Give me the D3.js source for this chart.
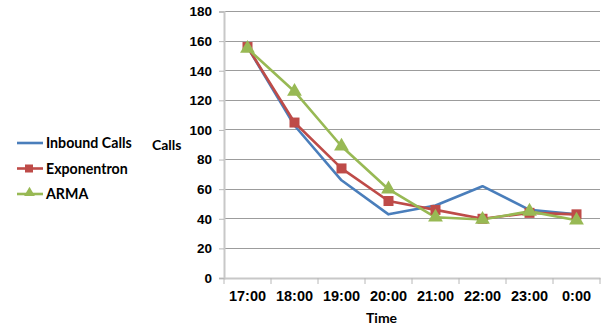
<!DOCTYPE html>
<html><head><meta charset="utf-8">
<script src="https://cdn.jsdelivr.net/npm/d3@7"></script>
<style>body{margin:0;background:#fff}svg{display:block}</style>
</head><body>
<script>
const categories = ["17:00","18:00","19:00","20:00","21:00","22:00","23:00","0:00"];
const inbound = [156,103,66,43,49,62,46,43];
const exponentron = [156,105,74,52,46,40,44,43];
const arma = [155,126,89,60,41,39.5,45,39];
const yTicks = [0,20,40,60,80,100,120,140,160,180];
const seriesNames = ["Inbound Calls","Exponentron","ARMA"];
const colors = ["#4a7ebb","#be4b48","#98b954"];

const W=606,H=327;
const svg=d3.select("body").append("svg").attr("width",W).attr("height",H);
const x=d3.scaleBand().domain(categories).range([224,600]);
const y=d3.scaleLinear().domain([0,180]).range([278,11.5]);

// grid
svg.append("g").selectAll("line").data(yTicks.filter(d=>d>0)).join("line")
 .attr("x1",224).attr("x2",600).attr("y1",d=>y(d)).attr("y2",d=>y(d))
 .attr("stroke","#9c9c9c").attr("stroke-width",1).attr("shape-rendering","crispEdges");

// y axis
const ya=svg.append("g").attr("transform","translate(224,0)")
 .call(d3.axisLeft(y).tickValues(yTicks).tickSize(5).tickPadding(7));
ya.select(".domain").attr("stroke","#c8c8c8").attr("stroke-width",2);
ya.selectAll(".tick line").attr("stroke","#b8b8b8");
ya.selectAll("text").attr("font-family","Liberation Sans, Arial").attr("font-weight","bold").attr("font-size",13.5).attr("fill","#000");

// x axis
const xa=svg.append("g").attr("transform","translate(0,278)")
 .call(d3.axisBottom(x).tickSize(0).tickPadding(13));
xa.select(".domain").attr("stroke","#c8c8c8").attr("stroke-width",2);
xa.selectAll("text").attr("font-family","Liberation Sans, Arial").attr("font-weight","bold").attr("font-size",14.5).attr("fill","#000");
const bounds=categories.map(c=>x(c)).concat([x.range()[1]]);
svg.append("g").selectAll("line").data(bounds).join("line")
 .attr("x1",d=>d).attr("x2",d=>d).attr("y1",278).attr("y2",284)
 .attr("stroke","#b8b8b8").attr("stroke-width",1);

const cx=c=>x(c)+x.bandwidth()/2;
const line=d3.line().x((d,i)=>cx(categories[i])).y(d=>y(d));
const data=[inbound,exponentron,arma];
data.forEach((vals,k)=>{
  svg.append("path").datum(vals).attr("d",line).attr("fill","none")
   .attr("stroke",colors[k]).attr("stroke-width",2.6).attr("stroke-linejoin","round");
});
// markers
svg.append("g").selectAll("rect").data(exponentron).join("rect")
 .attr("x",(d,i)=>cx(categories[i])-5).attr("y",d=>y(d)-5).attr("width",10).attr("height",10)
 .attr("fill",colors[1]);
const tri=d3.symbol().type(d3.symbolTriangle).size(95);
svg.append("g").selectAll("path").data(arma).join("path")
 .attr("d",tri).attr("transform",(d,i)=>`translate(${cx(categories[i])},${y(d)})`)
 .attr("fill",colors[2]);

// legend
const lg=svg.append("g");
seriesNames.forEach((n,k)=>{
  const ly=143+k*25.5;
  lg.append("line").attr("x1",17).attr("x2",43).attr("y1",ly).attr("y2",ly).attr("stroke",colors[k]).attr("stroke-width",2.6);
  if(k===1) lg.append("rect").attr("x",25).attr("y",ly-4).attr("width",8).attr("height",8).attr("fill",colors[1]);
  if(k===2) lg.append("path").attr("d",d3.symbol().type(d3.symbolTriangle).size(50)).attr("transform",`translate(29.5,${ly-1})`).attr("fill",colors[2]);
  lg.append("text").attr("x",46).attr("y",ly+5).text(n)
   .attr("font-family","Lato, Carlito, sans-serif").attr("font-weight","bold").attr("font-size",14.2).attr("fill","#000");
});
svg.append("text").attr("x",152).attr("y",150).text("Calls")
 .attr("font-family","Lato, sans-serif").attr("font-weight","bold").attr("font-size",14);
svg.append("text").attr("x",366).attr("y",323).text("Time")
 .attr("font-family","Lato, sans-serif").attr("font-weight","bold").attr("font-size",14);
</script>
</body></html>
